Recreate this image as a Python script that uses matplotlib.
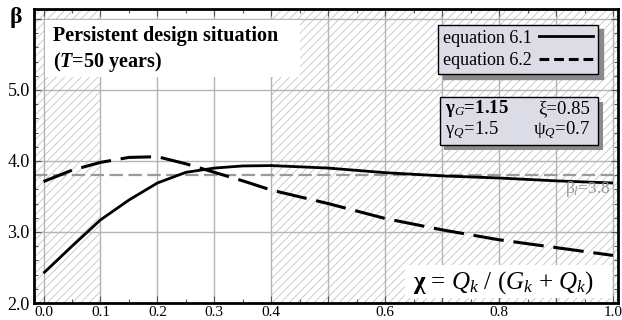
import matplotlib
matplotlib.use("Agg")
import matplotlib.pyplot as plt
from matplotlib.lines import Line2D
from matplotlib.patches import Rectangle
from matplotlib.ticker import MultipleLocator, FixedLocator, FixedFormatter

plt.rcParams['font.family'] = 'Liberation Serif'
plt.rcParams['mathtext.fontset'] = 'custom'
plt.rcParams['mathtext.rm'] = 'Liberation Serif'
plt.rcParams['mathtext.it'] = 'Liberation Serif:italic'
plt.rcParams['mathtext.bf'] = 'Liberation Serif:bold'
plt.rcParams['mathtext.bfit'] = 'Liberation Serif:italic:bold'
plt.rcParams['hatch.linewidth'] = 0.6

# data
chi = [0.0, 0.05, 0.1, 0.15, 0.2, 0.25, 0.3, 0.35, 0.4, 0.5, 0.6, 0.7, 0.8, 0.9, 1.0]
beta_61 = [2.42, 2.80, 3.17, 3.45, 3.69, 3.84, 3.90, 3.93, 3.935, 3.90, 3.835, 3.79, 3.76, 3.72, 3.69]
beta_62 = [3.71, 3.87, 3.98, 4.05, 4.06, 3.96, 3.84, 3.72, 3.59, 3.40, 3.19, 3.03, 2.89, 2.78, 2.67]
beta_target = 3.8
white_band = [0.1, 0.4]

xticks = [0.0, 0.1, 0.2, 0.3, 0.4, 0.5, 0.6, 0.7, 0.8, 0.9, 1.0]
xticklabels = ["0.0", "0.1", "0.2", "0.3", "0.4", "", "0.6", "", "0.8", "", "1.0"]
yticks = [2.0, 3.0, 4.0, 5.0, 6.0]
yticklabels = ["2.0", "3.0", "4.0", "5.0", ""]

fig = plt.figure(figsize=(6.22, 3.2), dpi=100)
ax = fig.add_axes([34/622, 17/320, 584/622, 294/320])
xmin, xmax = -0.0167, 1.0088
ymin, ymax = 2.0, 6.14
ax.set_xlim(xmin, xmax)
ax.set_ylim(ymin, ymax)

# hatched zones outside 0.1..0.4
hatch_col = '#c4c4c4'
ax.axvspan(xmin, white_band[0], facecolor='white', edgecolor=hatch_col, hatch='////', lw=0, zorder=0.5)
ax.axvspan(white_band[1], xmax, facecolor='white', edgecolor=hatch_col, hatch='////', lw=0, zorder=0.5)

ax.xaxis.set_major_locator(FixedLocator(xticks))
ax.xaxis.set_major_formatter(FixedFormatter(xticklabels))
ax.xaxis.set_minor_locator(MultipleLocator(0.05))
ax.yaxis.set_major_locator(FixedLocator(yticks))
ax.yaxis.set_major_formatter(FixedFormatter(yticklabels))
ax.yaxis.set_minor_locator(MultipleLocator(0.2))
ax.grid(True, which='major', color='#b4b4b4', lw=1.0)
ax.tick_params(which='both', direction='in', top=True, right=True, color='#555555')
ax.tick_params(which='major', length=5, width=0.8)
ax.tick_params(which='minor', length=3, width=0.8)
ax.tick_params(axis='x', labelsize=11, pad=2.5)
ax.tick_params(axis='y', labelsize=13, pad=3)
for s in ax.spines.values():
    s.set_linewidth(2)

ax.axhline(beta_target, color='#9a9a9a', lw=1.6, dashes=(6, 2.5), zorder=2)
ax.plot(chi, beta_61, color='black', lw=2.0, solid_capstyle='butt', zorder=3)
ax.plot(chi, beta_62, color='black', lw=2.2, dashes=(10, 3.2), zorder=3)

ax.text(0.995, 3.61, r'β$_l$=3.8', color='#999999', fontsize=12.5, ha='right', va='center', zorder=3)

# title box
ax.add_patch(Rectangle((0.003, 5.18), 0.447, 0.81, facecolor='white', edgecolor='none', zorder=4))
ax.text(0.016, 5.90, 'Persistent design situation\n(' + r'$\mathbfit{T}$' + '=50 years)',
        fontsize=14.5, fontweight='bold', ha='left', va='top', linespacing=1.25, zorder=5)

# legend
handles = [Line2D([], [], color='black', lw=2.0),
           Line2D([], [], color='black', lw=2.2, dashes=(3.2, 1.6))]
leg = ax.legend(handles, ['equation 6.1', 'equation 6.2'], loc='upper right',
                bbox_to_anchor=(0.974, 5.92), bbox_transform=ax.transData,
                markerfirst=False, fontsize=13, frameon=True, fancybox=False,
                facecolor='#dcdce6', edgecolor='black', framealpha=1,
                shadow={'ox': 3.5, 'oy': -3.5, 'facecolor': '#8a8a8a', 'edgecolor': '#8a8a8a', 'alpha': 1},
                borderpad=0.28, labelspacing=0.3, handlelength=3.0, handletextpad=0.4,
                borderaxespad=0)
leg.set_zorder(6)
leg.get_frame().set_linewidth(1.0)

# parameter box
ax.add_patch(Rectangle((0.704, 4.16), 0.278, 0.67, facecolor='#8a8a8a', edgecolor='none', zorder=5))
ax.add_patch(Rectangle((0.696, 4.23), 0.278, 0.67, facecolor='#dcdce6', edgecolor='black', lw=1.0, zorder=5))
ax.text(0.705, 4.74, r'γ$_{G}$=1.15', fontsize=13.5, fontweight='bold', ha='left', va='center', zorder=6)
ax.text(0.960, 4.74, 'ξ=0.85', fontsize=13.5, ha='right', va='center', zorder=6)
ax.text(0.705, 4.44, r'γ$_{Q}$=1.5', fontsize=13.5, ha='left', va='center', zorder=6)
ax.text(0.960, 4.44, r'ψ$_{Q}$=0.7', fontsize=13.5, ha='right', va='center', zorder=6)

# definition of chi
ax.add_patch(Rectangle((0.635, 2.07), 0.363, 0.47, facecolor='white', edgecolor='none', zorder=4))
ax.text(0.808, 2.29, r'$\mathbf{χ}$ = $Q_k$ / ($G_k$ + $Q_k$)', fontsize=18,
        ha='center', va='center', zorder=5)

fig.text(16/622, 1 - 18/320, 'β', fontsize=17, fontweight='bold', ha='center', va='center')

fig.savefig('out.png', dpi=100)
